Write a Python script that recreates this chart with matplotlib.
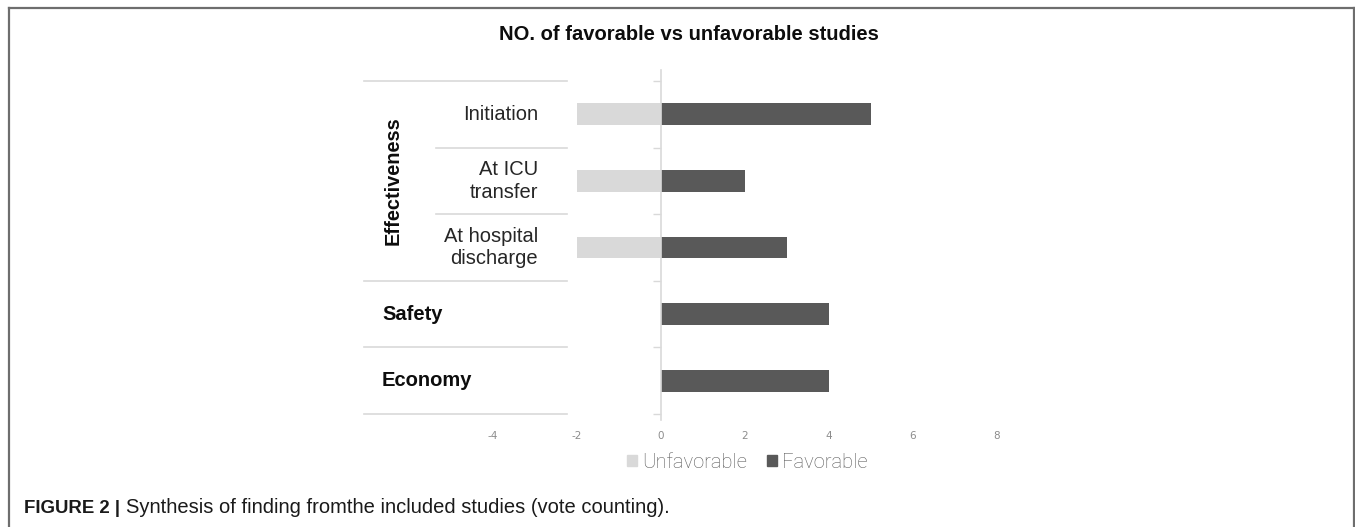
import matplotlib
matplotlib.use("Agg")
import matplotlib.pyplot as plt
from matplotlib.lines import Line2D
from matplotlib.patches import Patch

# Podaci sa grafika
CATEGORIES = ["Initiation", "At ICU\ntransfer", "At hospital\ndischarge", "Safety", "Economy"]
UNFAVORABLE = [-2, -2, -2, 0, 0]
FAVORABLE = [5, 2, 3, 4, 4]
X_TICKS = [-4, -2, 0, 2, 4, 6, 8]
X_TICK_LABELS = ["-4", "-2", "0", "2", "4", "6", "8"]

W, H = 1355, 527
LIGHT = "#d9d9d9"
DARK = "#595959"
LINE = "#d9d9d9"

fig = plt.figure(figsize=(W / 100, H / 100), dpi=100)

# pozicija osa u pikselima: x=0 na 661 px, 42 px po jedinici
px_per_unit = 42
x0_px = 661
xmin, xmax = -4.5, 8.5
ax_left = x0_px + xmin * px_per_unit
ax_right = x0_px + xmax * px_per_unit
ax_top, ax_bottom = 70, 420
ax = fig.add_axes([ax_left / W, (H - ax_bottom) / H,
                   (ax_right - ax_left) / W, (ax_bottom - ax_top) / H])

y_pos = list(range(len(CATEGORIES)))
ax.barh(y_pos, UNFAVORABLE, height=0.33, color=LIGHT, label="Unfavorable")
ax.barh(y_pos, FAVORABLE, height=0.33, color=DARK, label="Favorable")

row_px = 66.5
ax.set_xlim(xmin, xmax)
ax.set_ylim(4.5 + (ax_bottom - 414) / row_px, -0.5 - (81 - ax_top) / row_px)

for side in ["top", "right", "bottom"]:
    ax.spines[side].set_visible(False)
ax.spines["left"].set_position(("data", 0))
ax.spines["left"].set_color(LINE)
ax.spines["left"].set_linewidth(1.2)

boundaries = [y - 0.5 for y in y_pos] + [len(CATEGORIES) - 0.5]
ax.set_yticks(boundaries)
ax.set_yticklabels([""] * len(boundaries))
ax.tick_params(axis="y", length=5.8, color=LINE, width=1.0)

ax.set_xticks(X_TICKS)
ax.set_xticklabels(X_TICK_LABELS)
ax.tick_params(axis="x", length=0, labelsize=7.5, labelcolor="#8c8c8c", pad=8)


def px_to_x(px):
    """Pretvara horizontalnu poziciju u pikselima u x koordinatu podataka."""
    return (px - x0_px) / px_per_unit


# tabela kategorija levo od osa
for b in boundaries:
    start = px_to_x(436) if b in (0.5, 1.5) else px_to_x(364)
    ax.plot([start, px_to_x(567)], [b, b], color=LINE, lw=1.2, clip_on=False)

font = "Liberation Sans"
for y, label in zip(y_pos[:3], CATEGORIES[:3]):
    ax.text(px_to_x(538), y, label, ha="right", va="center", fontsize=14.5,
            family=font, color="#262626", linespacing=1.25)
ax.text(px_to_x(393), 1, "Effectiveness", ha="center", va="center", rotation=90,
        fontsize=14.4, fontweight="bold", family=font, color="#0d0d0d")
for y in y_pos[3:]:
    ax.text(px_to_x(382), y, CATEGORIES[y], ha="left", va="center", fontsize=14.5,
            fontweight="bold", family=font, color="#0d0d0d")

fig.text(688.5 / W, 1 - 35 / H, "NO. of favorable vs unfavorable studies", ha="center",
         va="center", fontsize=14.5, fontweight="bold", family=font, color="#0d0d0d")

handles = [Patch(color=LIGHT, label="Unfavorable"), Patch(color=DARK, label="Favorable")]
fig.legend(handles=handles, loc="center", bbox_to_anchor=(747 / W, 1 - 462 / H), ncol=2,
           frameon=False, handlelength=0.5, handleheight=0.5, handletextpad=0.25,
           columnspacing=1.0, prop={"family": "Roboto", "weight": "light", "size": 14.5},
           labelcolor="#595959")

# okvir slike
frame_kw = dict(color="#6e6e6e", lw=1.6, transform=fig.transFigure)
fig.add_artist(Line2D([9 / W, 1354 / W], [1 - 8 / H, 1 - 8 / H], **frame_kw))
fig.add_artist(Line2D([9 / W, 9 / W], [0, 1 - 8 / H], **frame_kw))
fig.add_artist(Line2D([1354 / W, 1354 / W], [0, 1 - 8 / H], **frame_kw))

# potpis slike, obe poruke na istoj osnovnoj liniji
baseline_y = 1 - 513 / H
bold = fig.text(24 / W, baseline_y, "FIGURE 2 |", ha="left", va="baseline", fontsize=13.4,
                fontweight="bold", family=font, color="#1a1a1a")
fig.canvas.draw()
bb = bold.get_window_extent()
fig.text((bb.x1 + 6) / W, baseline_y, "Synthesis of finding fromthe included studies (vote counting).",
         ha="left", va="baseline", fontsize=14.5, family=font, color="#1a1a1a")

fig.savefig("out.png", dpi=100)
